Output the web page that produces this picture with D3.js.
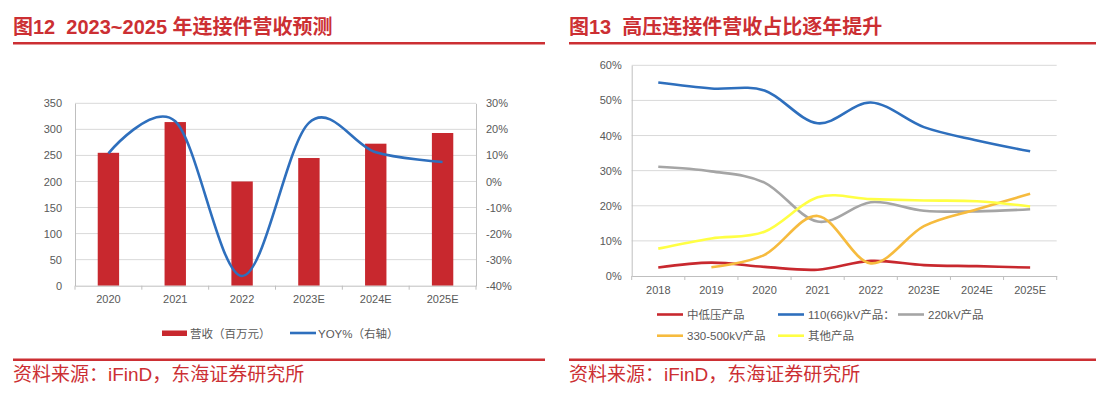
<!DOCTYPE html>
<html>
<head>
<meta charset="utf-8">
<script src="https://cdn.jsdelivr.net/npm/d3@7"></script>
<style>
  html, body { margin: 0; padding: 0; background: #fff; }
  svg { display: block; font-family: Arial, "Liberation Sans", "Noto Sans CJK SC", sans-serif; }
  .tick text { fill: #595959; font-size: 11px; }
  .title { fill: #cc2f33; font-size: 20px; font-weight: bold; white-space: pre; }
  .source { fill: #cc2f33; font-size: 19px; }
  .legend text { fill: #595959; font-size: 11.5px; }
</style>
</head>
<body>
<svg id="chart" width="1096" height="398"></svg>
<script>
// left chart: revenue forecast
const revYears = ["2020", "2021", "2022", "2023E", "2024E", "2025E"];
const revenue = [255, 314, 200, 245, 272.5, 293];
const yoy = [10.8, 23.1, -36.3, 22.5, 11.2, 7.5];
const revTicks = [0, 50, 100, 150, 200, 250, 300, 350];
const yoyTicks = [-40, -30, -20, -10, 0, 10, 20, 30];

// right chart: share by product
const shareYears = ["2018", "2019", "2020", "2021", "2022", "2023E", "2024E", "2025E"];
const shareSeries = [
  { name: "中低压产品", color: "#c8282e", values: [2.4, 3.8, 2.6, 1.8, 4.3, 3.1, 2.8, 2.4] },
  { name: "110(66)kV产品：", color: "#2e6fbd", values: [55.1, 53.4, 52.8, 43.5, 49.4, 42.4, 38.6, 35.5] },
  { name: "220kV产品", color: "#a5a5a5", values: [31.1, 29.8, 26.6, 15.5, 21.0, 18.6, 18.4, 19.0] },
  { name: "330-500kV产品", color: "#f6bb3e", values: [null, 2.5, 6.0, 17.1, 3.6, 14.2, 19.0, 23.4] },
  { name: "其他产品", color: "#ffff44", values: [7.8, 10.7, 12.6, 22.4, 21.9, 21.5, 21.3, 19.8] },
];
const shareTicks = [0, 10, 20, 30, 40, 50, 60];

const svg = d3.select("#chart");
const red = "#cc2f33";
const gridColor = "#d9d9d9";
const axisColor = "#bfbfbf";

// headers and footers
[[13, 545, "图12  2023~2025 年连接件营收预测"], [569, 1096, "图13  高压连接件营收占比逐年提升"]].forEach(([x0, x1, t]) => {
  svg.append("text").attr("class", "title").attr("x", x0).attr("y", 34).text(t);
  svg.append("rect").attr("x", x0).attr("y", 42).attr("width", x1 - x0).attr("height", 2.5).attr("fill", red);
  svg.append("rect").attr("x", x0).attr("y", 358.5).attr("width", x1 - x0).attr("height", 2.5).attr("fill", red);
  svg.append("text").attr("class", "source").attr("x", x0).attr("y", 381).text("资料来源：iFinD，东海证券研究所");
});

// ---------- left chart ----------
{
  const left = 75, right = 476, top = 103.3, bottom = 285.7;
  const x = d3.scaleBand().domain(revYears).range([left, right]);
  const y = d3.scaleLinear().domain([0, 350]).range([bottom, top]);
  const y2 = d3.scaleLinear().domain([-40, 30]).range([bottom, top]);
  const g = svg.append("g");

  g.append("g")
    .selectAll("line")
    .data(revTicks.slice(1))
    .join("line")
    .attr("x1", left).attr("x2", right)
    .attr("y1", (d) => y(d)).attr("y2", (d) => y(d))
    .attr("stroke", gridColor);

  g.append("g")
    .attr("transform", `translate(${left},0)`)
    .call(d3.axisLeft(y).tickValues(revTicks).tickSize(0).tickPadding(13))
    .call((a) => a.select(".domain").attr("stroke", axisColor));
  g.append("g")
    .attr("transform", `translate(${right},0)`)
    .call(d3.axisRight(y2).tickValues(yoyTicks).tickSize(0).tickPadding(10).tickFormat((d) => d + "%"))
    .call((a) => a.select(".domain").attr("stroke", axisColor));

  g.append("g")
    .selectAll("rect")
    .data(revenue)
    .join("rect")
    .attr("x", (d, i) => x(revYears[i]) + x.bandwidth() * 0.34)
    .attr("width", x.bandwidth() * 0.32)
    .attr("y", (d) => y(d))
    .attr("height", (d) => y(0) - y(d))
    .attr("fill", "#c8282e");

  const xa = g.append("g")
    .attr("transform", `translate(0,${bottom})`)
    .call(d3.axisBottom(x).tickSize(0).tickPadding(10));
  xa.select(".domain").attr("stroke", axisColor);
  xa.append("g")
    .selectAll("line")
    .data(d3.range(revYears.length + 1))
    .join("line")
    .attr("x1", (i) => left + i * x.step()).attr("x2", (i) => left + i * x.step())
    .attr("y1", 0).attr("y2", 4)
    .attr("stroke", axisColor);

  const line = d3.line()
    .x((d, i) => x(revYears[i]) + x.bandwidth() / 2)
    .y((d) => y2(d))
    .curve(d3.curveCardinal.tension(0));
  g.append("path")
    .datum(yoy)
    .attr("d", line)
    .attr("fill", "none")
    .attr("stroke", "#2e6fbd")
    .attr("stroke-width", 2.6);

  const lg = g.append("g").attr("class", "legend");
  lg.append("rect").attr("x", 162).attr("y", 330.5).attr("width", 25).attr("height", 5.5).attr("fill", "#c8282e");
  lg.append("text").attr("x", 190).attr("y", 337.5).text("营收（百万元）");
  lg.append("line").attr("x1", 290).attr("x2", 316).attr("y1", 333).attr("y2", 333).attr("stroke", "#2e6fbd").attr("stroke-width", 2.6);
  lg.append("text").attr("x", 318).attr("y", 337.5).text("YOY%（右轴）");
}

// ---------- right chart ----------
{
  const left = 631.7, right = 1056.7, top = 65.3, bottom = 276;
  const x = d3.scaleBand().domain(shareYears).range([left, right]);
  const y = d3.scaleLinear().domain([0, 60]).range([bottom, top]);
  const g = svg.append("g");

  g.append("g")
    .selectAll("line")
    .data(shareTicks.slice(1))
    .join("line")
    .attr("x1", left).attr("x2", right)
    .attr("y1", (d) => y(d)).attr("y2", (d) => y(d))
    .attr("stroke", gridColor);

  g.append("g")
    .attr("transform", `translate(${left},0)`)
    .call(d3.axisLeft(y).tickValues(shareTicks).tickSize(0).tickPadding(10).tickFormat((d) => d + "%"))
    .call((a) => a.select(".domain").attr("stroke", axisColor));

  const xa = g.append("g")
    .attr("transform", `translate(0,${bottom})`)
    .call(d3.axisBottom(x).tickSize(0).tickPadding(10));
  xa.select(".domain").attr("stroke", axisColor);
  xa.append("g")
    .selectAll("line")
    .data(d3.range(shareYears.length + 1))
    .join("line")
    .attr("x1", (i) => left + i * x.step()).attr("x2", (i) => left + i * x.step())
    .attr("y1", 0).attr("y2", 4)
    .attr("stroke", axisColor);

  const line = d3.line()
    .defined((d) => d != null)
    .x((d, i) => x(shareYears[i]) + x.bandwidth() / 2)
    .y((d) => y(d))
    .curve(d3.curveCardinal.tension(0));

  g.append("g")
    .selectAll("path")
    .data(shareSeries)
    .join("path")
    .attr("d", (s) => line(s.values))
    .attr("fill", "none")
    .attr("stroke", (s) => s.color)
    .attr("stroke-width", 2.6);

  const pos = [[657, 314.5], [778, 314.5], [898, 314.5], [657, 335.7], [778, 335.7]];
  const lg = g.append("g").attr("class", "legend")
    .selectAll("g")
    .data(shareSeries)
    .join("g")
    .attr("transform", (d, i) => `translate(${pos[i][0]},${pos[i][1]})`);
  lg.append("line").attr("x1", 0).attr("x2", 26).attr("stroke", (d) => d.color).attr("stroke-width", 2.6);
  lg.append("text").attr("x", 30).attr("y", 4.5).text((d) => d.name);
}
</script>
</body>
</html>
